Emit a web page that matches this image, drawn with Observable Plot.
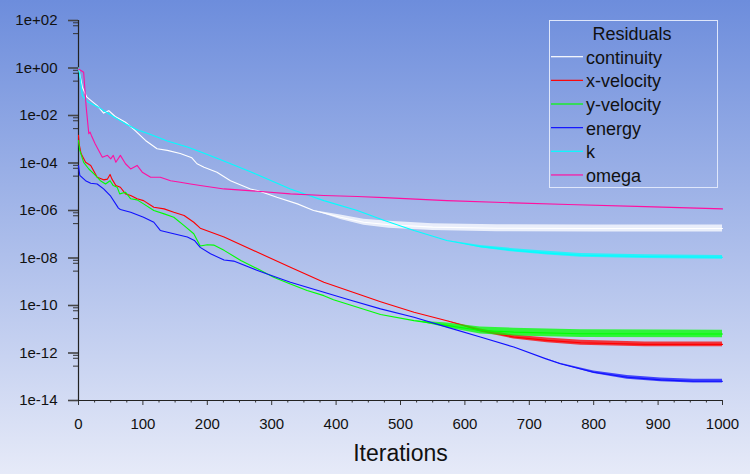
<!DOCTYPE html>
<html><head><meta charset="utf-8">
<script src="https://cdn.jsdelivr.net/npm/d3@7"></script>
<script src="https://cdn.jsdelivr.net/npm/@observablehq/plot@0.6"></script>
<style>
html,body{margin:0;padding:0;}
body{width:750px;height:474px;overflow:hidden;background:linear-gradient(to bottom,#6d8ddc 0%,#e6eaf8 100%);}
#chart{position:relative;width:750px;height:474px;}
</style></head><body><div id="chart"></div>
<script>
// ---- data ----
const seriesNames = ["continuity", "x-velocity", "y-velocity", "energy", "k", "omega"];
const seriesColors = ["#ffffff", "#ff0000", "#00ff00", "#1010ff", "#00ffff", "#ff10a0"];

const continuityIter = [0,6,13,29,39,47,57,73,88,104,122,138,158,176,184,195,215,236,267,278,308,340,365,407,443,482,550,650,800,1000];
const continuityRes = [1.0,1.55e-1,5.9e-2,2.6e-2,1.26e-2,1.6e-2,9.1e-3,5.2e-3,2.3e-3,8.9e-4,4.0e-4,3.4e-4,2.5e-4,1.66e-4,9.3e-5,6.6e-5,4.1e-5,1.8e-5,8.1e-6,6.9e-6,3.6e-6,1.9e-6,1.0e-6,5.2e-7,3.2e-7,2.5e-7,2.0e-7,1.8e-7,1.74e-7,1.74e-7];
const continuitySpread = [1,1,1,1,1,1,1,1,1,1,1,1,1,1,1,1,1,1,1,1,1,1,1,1.25,1.35,1.4,1.4,1.4,1.4,1.4];

const xvelIter = [0,1,4,11,19,29,39,45,49,52,58,65,73,81,91,101,117,133,148,164,179,189,226,278,329,381,433,469,521,572,624,676,728,780,880,1000];
const xvelRes = [1.45e-3,6.3e-4,2.5e-4,1.07e-4,7.9e-5,2.5e-5,1.95e-5,2.1e-5,3.3e-5,2.1e-5,1.12e-5,9.5e-6,5.0e-6,4.3e-6,3.1e-6,2.6e-6,1.38e-6,1.17e-6,8.5e-7,6.2e-7,3.2e-7,1.8e-7,7.6e-8,1.74e-8,4.1e-9,9.5e-10,3.1e-10,1.45e-10,5.2e-11,2.3e-11,8.9e-12,4.7e-12,3.4e-12,2.7e-12,2.3e-12,2.3e-12];
const xvelSpread = [1,1,1,1,1,1,1,1,1,1,1,1,1,1,1,1,1,1,1,1,1,1,1,1,1,1,1,1,1,1,1.15,1.22,1.27,1.27,1.27,1.27];

const yvelIter = [0,2,8,16,24,34,42,49,54,60,64,73,81,91,101,117,133,148,164,179,189,200,210,226,252,278,303,329,355,381,396,469,521,572,624,676,780,1000];
const yvelRes = [8.9e-4,3.4e-4,1.07e-4,5.6e-5,3.5e-5,1.8e-5,1.3e-5,1.8e-5,1.12e-5,9.5e-6,5.0e-6,5.9e-6,3.1e-6,2.8e-6,1.9e-6,1.0e-6,7.2e-7,5.2e-7,2.3e-7,1.05e-7,3.2e-8,3.6e-8,3.5e-8,2.1e-8,7.9e-9,3.5e-9,1.55e-9,8.1e-10,4.3e-10,2.6e-10,1.74e-10,4.2e-11,2.3e-11,1.45e-11,8.9e-12,7.6e-12,6.5e-12,6.3e-12];
const yvelSpread = [1,1,1,1,1,1,1,1,1,1,1,1,1,1,1,1,1,1,1,1,1,1,1,1,1,1,1,1,1,1,1,1,1,1.25,1.4,1.45,1.45,1.45];

const energyIter = [0,2,11,19,29,39,50,62,65,81,101,117,127,143,169,180,189,205,226,241,278,293,329,381,420,469,521,572,624,676,725,748,800,852,904,955,1000];
const energyRes = [7.9e-5,3.0e-5,1.8e-5,1.4e-5,1.3e-5,8.1e-6,4.0e-6,1.26e-6,1.1e-6,8.5e-7,5.2e-7,3.2e-7,1.45e-7,1.12e-7,7.6e-8,5.5e-8,2.8e-8,1.5e-8,8.3e-9,7.4e-9,3.0e-9,2.1e-9,9.5e-10,3.6e-10,1.74e-10,7.2e-11,3.2e-11,1.23e-11,4.7e-12,1.78e-12,5.8e-13,3.5e-13,1.55e-13,9.5e-14,7.4e-14,6.5e-14,6.5e-14];
const energySpread = [1,1,1,1,1,1,1,1,1,1,1,1,1,1,1,1,1,1,1,1,1,1,1,1,1,1,1,1,1,1,1,1.05,1.12,1.2,1.2,1.2,1.2];

const kIter = [0,2,6,14,30,50,70,90,112,138,169,189,215,241,267,278,329,381,433,475,521,572,624,676,728,780,880,1000];
const kRes = [1.0,5e-1,6.9e-2,3.8e-2,2.3e-2,1.05e-2,5.0e-3,2.6e-3,1.6e-3,8.5e-4,4.7e-4,3.0e-4,1.6e-4,8.3e-5,4.3e-5,3.2e-5,8.1e-6,2.6e-6,1.0e-6,3.8e-7,1.45e-7,5.5e-8,3.0e-8,2.1e-8,1.6e-8,1.3e-8,1.15e-8,1.07e-8];
const kSpread = [1,1,1,1,1,1,1,1,1,1,1,1,1,1,1,1,1,1,1,1,1,1,1.12,1.18,1.2,1.2,1.2,1.2];

const omegaIter = [0,8,12,16,18,20,26,37,45,50,54,58,65,73,81,91,99,112,127,143,158,174,189,226,278,329,381,433,475,572,676,760,880,1000];
const omegaRes = [9.1e-1,6.6e-1,2.2e-2,1.7e-3,2.0e-3,1.45e-3,6.3e-4,1.74e-4,2.1e-4,1.5e-4,2.1e-4,1.07e-4,2.1e-4,9.3e-5,5.6e-5,7.9e-5,4.1e-5,2.5e-5,2.5e-5,1.8e-5,1.55e-5,1.3e-5,1.12e-5,8.1e-6,6.5e-6,5.0e-6,4.3e-6,3.9e-6,3.5e-6,2.6e-6,2.1e-6,1.8e-6,1.45e-6,1.17e-6];
const omegaSpread = omegaIter.map(() => 1);

const xMajorTicks = [0,100,200,300,400,500,600,700,800,900,1000];
const xMinorTicks = d3.range(0, 1001, 25).filter(v => v % 100 !== 0);
const yMajorTicks = [1e2,1e0,1e-2,1e-4,1e-6,1e-8,1e-10,1e-12,1e-14];
const yMinorFactors = [0.8, 0.6, 0.28];
const xLabel = "Iterations";
const legendTitle = "Residuals";

// ---- build table ----
const iters = [continuityIter, xvelIter, yvelIter, energyIter, kIter, omegaIter];
const vals = [continuityRes, xvelRes, yvelRes, energyRes, kRes, omegaRes];
const spreads = [continuitySpread, xvelSpread, yvelSpread, energySpread, kSpread, omegaSpread];
const rows = [];
seriesNames.forEach((name, s) => {
  iters[s].forEach((it, i) => rows.push({series: name, iter: it, res: vals[s][i], spread: spreads[s][i]}));
});
const yMinorTicks = yMajorTicks.flatMap(t => yMinorFactors.map(f => t * f)).filter(v => v >= 1e-14);
const fmt = d => { const e = Math.round(Math.log10(d)); return "1e" + (e < 0 ? "-" : "+") + String(Math.abs(e)).padStart(2, "0"); };

const marks = [];
seriesNames.forEach((name, s) => {
  const data = rows.filter(r => r.series === name);
  if (data.some(r => r.spread > 1)) {
    const firstOsc = d3.min(data.filter(q => q.spread > 1), q => q.iter);
    marks.push(Plot.areaY(data.filter(r => r.iter >= firstOsc - 60), {
      x: "iter", y1: r => r.res / r.spread, y2: r => r.res * r.spread,
      fill: seriesColors[s], fillOpacity: 0.75, curve: "linear"
    }));
  }
  marks.push(Plot.line(data, {x: "iter", y: "res", stroke: seriesColors[s], strokeWidth: 1.1}));
});

const plot = Plot.plot({
  width: 750, height: 474,
  marginLeft: 78, marginRight: 28, marginTop: 20, marginBottom: 74,
  style: {background: "transparent", fontFamily: "'Liberation Sans', Arial, sans-serif", color: "#111"},
  x: {domain: [0, 1000]},
  y: {type: "log", domain: [1e-14, 1e2]},
  marks: [
    Plot.axisY({ticks: yMinorTicks, tickSize: 5, tickFormat: () => "", stroke: "#333", label: null}),
    Plot.axisY({ticks: yMajorTicks, tickSize: 10, tickPadding: 11, tickFormat: fmt, fontSize: 15, stroke: "#444", strokeWidth: 1.6, fill: "#111", label: null}),
    Plot.axisX({ticks: xMinorTicks, tickSize: 2.5, tickFormat: () => "", stroke: "#333", label: null}),
    Plot.axisX({ticks: xMajorTicks, tickSize: 5, tickPadding: 13, tickFormat: d3.format("d"), fontSize: 15, stroke: "#333", fill: "#111", label: null}),
    Plot.ruleX([xMajorTicks[0]], {stroke: "#222", strokeWidth: 1.2}),
    Plot.ruleY([yMajorTicks[yMajorTicks.length - 1]], {stroke: "#222", strokeWidth: 1.2}),
    ...marks,
    Plot.text([xLabel], {text: d => d, frameAnchor: "bottom", dy: 53, fontSize: 23, fill: "#111", lineAnchor: "middle"})
  ]
});
document.getElementById("chart").appendChild(plot);

// ---- legend ----
const svg = d3.select(plot);
const lg = svg.append("g").attr("font-family", "'Liberation Sans', Arial, sans-serif");
lg.append("rect").attr("x", 549.5).attr("y", 20.5).attr("width", 168).attr("height", 167)
  .attr("fill", "none").attr("stroke", "#dfe7fb").attr("stroke-width", 1);
lg.append("text").attr("x", 632).attr("y", 40).attr("text-anchor", "middle")
  .attr("font-size", 18).attr("fill", "#111").text(legendTitle);
seriesNames.forEach((name, i) => {
  const y = 56.7 + i * 23.65;
  lg.append("line").attr("x1", 551).attr("x2", 583).attr("y1", y).attr("y2", y)
    .attr("stroke", seriesColors[i]).attr("stroke-width", 1.2);
  lg.append("text").attr("x", 586).attr("y", y + 7).attr("text-anchor", "start")
    .attr("font-size", 18).attr("fill", "#111").text(name);
});
</script></body></html>
